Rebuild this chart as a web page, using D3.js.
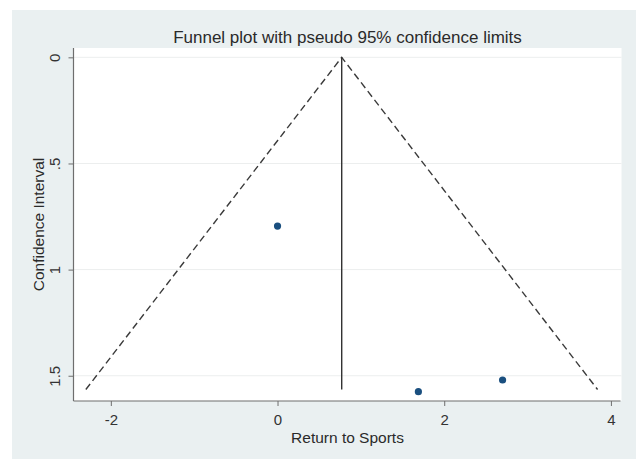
<!DOCTYPE html>
<html>
<head>
<meta charset="utf-8">
<script src="https://cdn.jsdelivr.net/npm/d3@7"></script>
<style>
  html, body { margin: 0; padding: 0; background: #ffffff; }
  svg { display: block; font-family: "Liberation Sans", Arial, sans-serif; }
</style>
</head>
<body>
<svg id="chart" width="636" height="459"></svg>
<script>
// ---- data ----
const chartTitle = "Funnel plot with pseudo 95% confidence limits";
const xTitle = "Return to Sports";
const yTitle = "Confidence Interval";
const studyEffect = [0.00, 1.69, 2.70];
const studySE = [0.795, 1.575, 1.52];
const pooledEffect = 0.77;
const funnelX = [-2.30, 0.77, 3.84];
const funnelY = [1.565, 0, 1.565];
const lineY = [0, 1.565];
const xTickValues = [-2, 0, 2, 4];
const xTickLabels = ["-2", "0", "2", "4"];
const yTickValues = [0, 0.5, 1, 1.5];
const yTickLabels = ["0", ".5", "1", "1.5"];

// ---- layout ----
const W = 636, H = 459;
const plot = { left: 73.5, right: 621.5, top: 48, bottom: 401 };
const svg = d3.select("#chart");

// outer background (Stata style)
svg.append("rect").attr("x", 12).attr("y", 10).attr("width", W - 12).attr("height", H - 10)
  .attr("fill", "#eaf0f1");
// plot region
svg.append("rect").attr("x", plot.left).attr("y", plot.top)
  .attr("width", plot.right - plot.left).attr("height", plot.bottom - plot.top)
  .attr("fill", "#ffffff");

const x = d3.scaleLinear().domain([-2.448, 4.127]).range([plot.left, plot.right]);
const y = d3.scaleLinear().domain([-0.044, 1.619]).range([plot.top, plot.bottom]);

// gridlines
svg.append("g").selectAll("line").data(yTickValues).join("line")
  .attr("x1", plot.left).attr("x2", plot.right)
  .attr("y1", d => y(d)).attr("y2", d => y(d))
  .attr("stroke", "#eceeee").attr("stroke-width", 1);

// axes
const xAxis = d3.axisBottom(x).tickValues(xTickValues)
  .tickFormat((d, i) => xTickLabels[i]).tickSize(5).tickPadding(8);
const gx = svg.append("g").attr("transform", `translate(0,${plot.bottom})`).call(xAxis);
gx.select(".domain").attr("stroke", "#6e6e6e").attr("stroke-width", 1.2)
  .attr("d", `M${plot.left},0H${plot.right - 1}`);
gx.selectAll(".tick line").attr("stroke", "#6e6e6e");
gx.selectAll(".tick text").attr("fill", "#333").attr("font-size", 15)
  .attr("font-family", "Liberation Sans, Arial, sans-serif");

const yAxis = d3.axisLeft(y).tickValues(yTickValues)
  .tickFormat((d, i) => yTickLabels[i]).tickSize(5).tickPadding(4);
const gy = svg.append("g").attr("transform", `translate(${plot.left},0)`).call(yAxis);
gy.select(".domain").attr("stroke", "#6e6e6e").attr("stroke-width", 1.2)
  .attr("d", `M0,${plot.top}V${plot.bottom}`);
gy.selectAll(".tick line").attr("stroke", "#6e6e6e");
gy.selectAll(".tick text")
  .attr("fill", "#333").attr("font-size", 15)
  .attr("font-family", "Liberation Sans, Arial, sans-serif")
  .attr("x", null).attr("dy", null)
  .attr("text-anchor", "middle")
  .attr("transform", "translate(-14,0) rotate(-90)");

// funnel (dashed)
const funnelPts = funnelX.map((v, i) => [v, funnelY[i]]);
svg.append("path")
  .attr("d", d3.line().x(d => x(d[0])).y(d => y(d[1]))(funnelPts))
  .attr("fill", "none").attr("stroke", "#3a3a3a").attr("stroke-width", 1.4)
  .attr("stroke-dasharray", "7,4");

// pooled effect vertical line
svg.append("line")
  .attr("x1", x(pooledEffect)).attr("x2", x(pooledEffect))
  .attr("y1", y(lineY[0])).attr("y2", y(lineY[1]))
  .attr("stroke", "#333").attr("stroke-width", 1.4);

// study points
svg.append("g").selectAll("circle").data(studyEffect).join("circle")
  .attr("cx", d => x(d)).attr("cy", (d, i) => y(studySE[i]))
  .attr("r", 3.6).attr("fill", "#1a4f7f");

// titles
svg.append("text").attr("x", (plot.left + plot.right) / 2).attr("y", 43)
  .attr("text-anchor", "middle").attr("font-size", 17).attr("fill", "#2a2a2a")
  .text(chartTitle);
svg.append("text").attr("x", (plot.left + plot.right) / 2).attr("y", 443)
  .attr("text-anchor", "middle").attr("font-size", 15.5).attr("fill", "#2a2a2a")
  .text(xTitle);
svg.append("text")
  .attr("transform", `translate(43.5,${(plot.top + plot.bottom) / 2}) rotate(-90)`)
  .attr("text-anchor", "middle").attr("font-size", 15.5).attr("fill", "#2a2a2a")
  .text(yTitle);
</script>
</body>
</html>
